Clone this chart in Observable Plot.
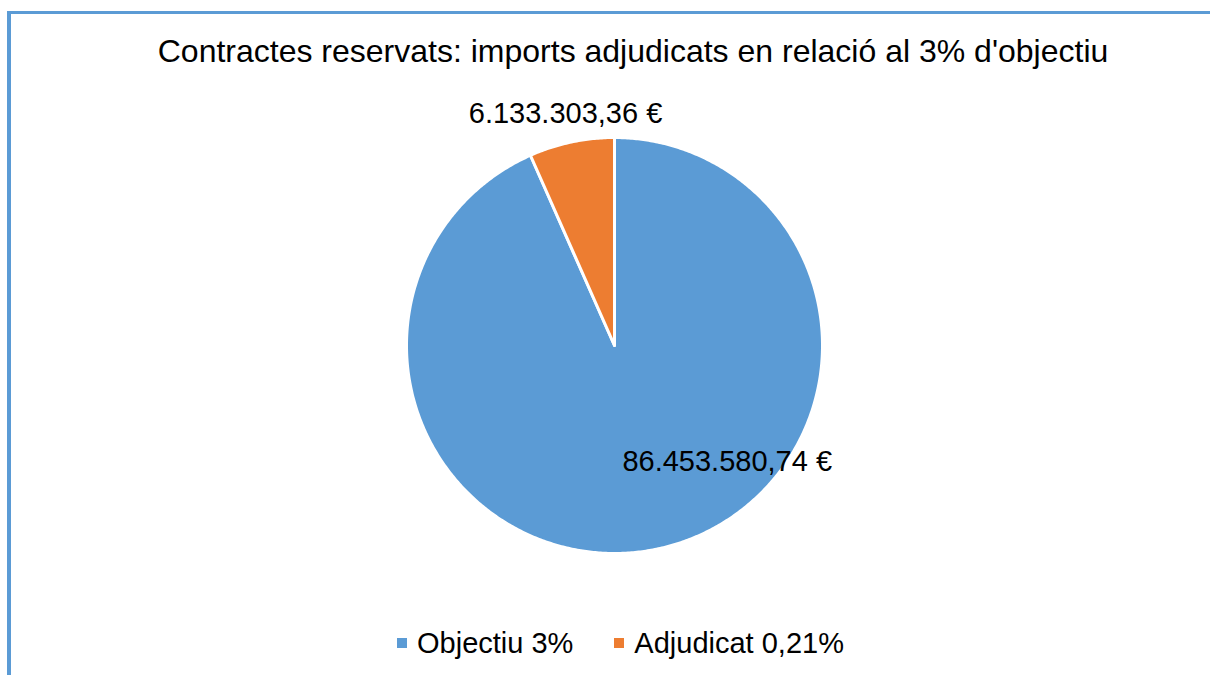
<!DOCTYPE html>
<html>
<head>
<meta charset="utf-8">
<script src="https://cdn.jsdelivr.net/npm/d3@7"></script>
<script src="https://cdn.jsdelivr.net/npm/@observablehq/plot@0.6"></script>
<style>
  html, body { margin: 0; padding: 0; background: #fff; }
  body { width: 1210px; height: 675px; overflow: hidden; position: relative; font-family: "Liberation Sans", Arial, sans-serif; }
  #frame { position: absolute; left: 7px; top: 11px; width: 1210px; height: 700px; border-left: 4px solid #5b9bd5; border-top: 3px solid #5b9bd5; box-sizing: border-box; }
  #title { position: absolute; left: 0; width: 1266px; top: 33px; text-align: center; font-size: 32px; color: #000; white-space: nowrap; line-height: 36px; }
  #chart { position: absolute; left: 0; top: 0; }
  #legend { position: absolute; left: 397px; top: 626px; font-size: 29px; line-height: 34px; color: #000; white-space: nowrap; display: flex; align-items: center; }
  .sw { display: inline-block; width: 10px; height: 10px; margin-right: 10px; }
  .item { display: flex; align-items: center; margin-right: 41px; }
</style>
</head>
<body>
<div id="frame"></div>
<div id="title"></div>
<div id="chart"></div>
<div id="legend"></div>
<script>
const titleText = "Contractes reservats: imports adjudicats en relació al 3% d'objectiu";
const categories = ["Objectiu 3%", "Adjudicat 0,21%"];
const values = [86453580.74, 6133303.36];
const valueLabels = ["86.453.580,74 €", "6.133.303,36 €"];
const colors = ["#5b9bd5", "#ed7d31"];

// layout
const W = 1210, H = 675, CX = 614, CY = 345, R = 208;

document.getElementById("title").textContent = titleText;

// build slice polygons (clockwise from 12 o'clock)
const total = d3.sum(values);
const slices = [];
let a0 = 0;
values.forEach((v, i) => {
  const a1 = a0 + (v / total) * 2 * Math.PI;
  const n = Math.max(2, Math.ceil((a1 - a0) / (Math.PI / 360)));
  slices.push({cat: categories[i], x: 0, y: 0});
  for (let k = 0; k <= n; k++) {
    const a = a0 + (a1 - a0) * k / n;
    slices.push({cat: categories[i], x: Math.sin(a), y: Math.cos(a)});
  }
  slices.push({cat: categories[i], x: 0, y: 0});
  a0 = a1;
});

// label placements: blue label "best fit" inside, orange outside end
const angles = [];
a0 = 0;
values.forEach(v => { const a1 = a0 + v / total * 2 * Math.PI; angles.push([a0, a1]); a0 = a1; });
const labelSpec = [
  {ang: (angles[0][0] + angles[0][1]) / 2 - 0.56, r: 0.78},
  {ang: (angles[1][0] + angles[1][1]) / 2, r: 1.14}
];
const labels = valueLabels.map((t, i) => ({
  text: t,
  x: Math.sin(labelSpec[i].ang) * labelSpec[i].r,
  y: Math.cos(labelSpec[i].ang) * labelSpec[i].r
}));

const plot = Plot.plot({
  width: W,
  height: H,
  margin: 0,
  x: {domain: [-CX / R, (W - CX) / R], range: [0, W], axis: null},
  y: {domain: [-(H - CY) / R, CY / R], range: [H, 0], axis: null},
  color: {domain: categories, range: colors},
  style: {background: "transparent", fontFamily: "'Liberation Sans', Arial, sans-serif"},
  marks: [
    Plot.line(slices, {x: "x", y: "y", z: "cat", fill: "cat", stroke: "white", strokeWidth: 3, strokeLinejoin: "round", curve: "linear"}),
    Plot.text(labels, {x: "x", y: "y", text: "text", fontSize: 29, fill: "black", textAnchor: "middle", lineAnchor: "middle"})
  ]
});
document.getElementById("chart").appendChild(plot);

const legend = document.getElementById("legend");
categories.forEach((c, i) => {
  const it = document.createElement("span");
  it.className = "item";
  const sw = document.createElement("span");
  sw.className = "sw";
  sw.style.background = colors[i];
  it.appendChild(sw);
  it.appendChild(document.createTextNode(c));
  legend.appendChild(it);
});
</script>
</body>
</html>
